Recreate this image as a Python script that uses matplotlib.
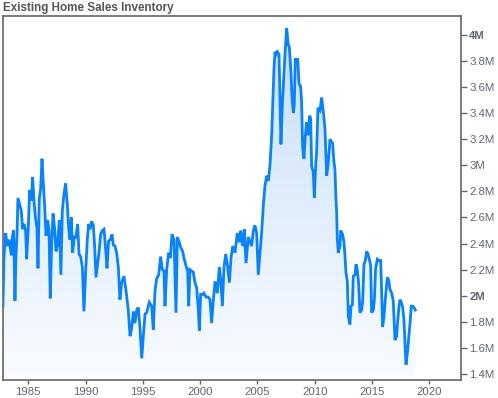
import matplotlib
matplotlib.use("Agg")
import matplotlib.pyplot as plt
import numpy as np
from matplotlib.colors import LinearSegmentedColormap
from matplotlib.ticker import FuncFormatter, FixedLocator

plt.rcParams["font.family"] = ["Liberation Sans", "DejaVu Sans"]

years = [
    1982.79, 1982.88, 1983.03, 1983.17, 1983.32, 1983.43, 1983.52, 1983.61, 1983.72, 1983.84,
    1983.93, 1984.01, 1984.10, 1984.25, 1984.39, 1984.51, 1984.63, 1984.77, 1984.86, 1985.00,
    1985.12, 1985.27, 1985.38, 1985.50, 1985.64, 1985.76, 1985.85, 1985.96, 1986.08, 1986.20,
    1986.31, 1986.43, 1986.55, 1986.69, 1986.81, 1986.92, 1987.04, 1987.16, 1987.30, 1987.42,
    1987.56, 1987.71, 1987.85, 1987.97, 1988.12, 1988.26, 1988.41, 1988.52, 1988.64, 1988.76,
    1988.87, 1989.02, 1989.16, 1989.31, 1989.43, 1989.57, 1989.72, 1989.86, 1990.01, 1990.15,
    1990.27, 1990.39, 1990.53, 1990.68, 1990.79, 1990.91, 1991.06, 1991.17, 1991.32, 1991.46,
    1991.61, 1991.75, 1991.87, 1992.01, 1992.16, 1992.31, 1992.42, 1992.57, 1992.71, 1992.86,
    1993.00, 1993.15, 1993.35, 1993.53, 1993.73, 1993.88, 1994.02, 1994.17, 1994.31, 1994.46,
    1994.60, 1994.75, 1994.90, 1995.04, 1995.19, 1995.33, 1995.56, 1995.77, 1995.91, 1996.06,
    1996.20, 1996.38, 1996.55, 1996.70, 1996.84, 1996.93, 1997.08, 1997.25, 1997.40, 1997.54,
    1997.72, 1997.89, 1998.01, 1998.18, 1998.30, 1998.47, 1998.59, 1998.76, 1998.91, 1999.00,
    1999.11, 1999.26, 1999.40, 1999.55, 1999.70, 1999.84, 1999.93, 2000.04, 2000.22, 2000.33,
    2000.51, 2000.71, 2000.86, 2001.00, 2001.15, 2001.30, 2001.50, 2001.67, 2001.79, 2001.94,
    2002.08, 2002.23, 2002.37, 2002.55, 2002.69, 2002.84, 2003.04, 2003.24, 2003.42, 2003.53,
    2003.71, 2003.85, 2004.00, 2004.20, 2004.49, 2004.64, 2004.78, 2004.93, 2005.07, 2005.22,
    2005.36, 2005.51, 2005.65, 2005.80, 2005.95, 2006.09, 2006.24, 2006.32, 2006.38, 2006.44,
    2006.53, 2006.61, 2006.73, 2006.88, 2006.96, 2007.05, 2007.17, 2007.31, 2007.40, 2007.55,
    2007.69, 2007.78, 2007.92, 2008.01, 2008.13, 2008.21, 2008.30, 2008.42, 2008.51, 2008.62,
    2008.77, 2008.85, 2008.94, 2009.06, 2009.17, 2009.29, 2009.41, 2009.55, 2009.64, 2009.73,
    2009.87, 2009.96, 2010.08, 2010.16, 2010.28, 2010.45, 2010.60, 2010.75, 2010.89, 2011.04,
    2011.18, 2011.33, 2011.44, 2011.56, 2011.68, 2011.76, 2011.85, 2011.91, 2011.97, 2012.05,
    2012.20, 2012.26, 2012.43, 2012.55, 2012.64, 2012.72, 2012.84, 2012.93, 2013.07, 2013.16,
    2013.28, 2013.36, 2013.51, 2013.60, 2013.71, 2013.83, 2013.94, 2014.09, 2014.18, 2014.29,
    2014.41, 2014.53, 2014.64, 2014.76, 2014.88, 2014.96, 2015.11, 2015.20, 2015.31, 2015.46,
    2015.60, 2015.75, 2015.83, 2015.92, 2016.04, 2016.18, 2016.33, 2016.45, 2016.56, 2016.71,
    2016.85, 2017.00, 2017.14, 2017.23, 2017.35, 2017.44, 2017.58, 2017.67, 2017.78, 2017.96,
    2018.08, 2018.16, 2018.31, 2018.42, 2018.54, 2018.66, 2018.77,
]

inventory_m = [
    1.92, 2.29, 2.48, 2.38, 2.43, 2.37, 2.31, 2.45, 2.50, 1.96,
    2.31, 2.45, 2.75, 2.70, 2.65, 2.51, 2.55, 2.50, 2.28, 2.52,
    2.81, 2.73, 2.91, 2.73, 2.59, 2.52, 2.21, 2.74, 2.82, 3.05,
    2.87, 2.69, 2.46, 2.58, 2.51, 1.98, 2.39, 2.63, 2.52, 2.34,
    2.39, 2.58, 2.16, 2.65, 2.78, 2.86, 2.70, 2.52, 2.43, 2.60,
    2.33, 2.45, 2.45, 2.55, 2.32, 2.30, 2.22, 1.88, 2.19, 2.43,
    2.55, 2.51, 2.57, 2.54, 2.38, 2.14, 2.25, 2.33, 2.47, 2.50,
    2.51, 2.36, 2.21, 2.42, 2.43, 2.47, 2.39, 2.38, 2.33, 2.22,
    1.97, 2.10, 2.15, 2.04, 1.89, 1.69, 1.75, 1.88, 1.79, 1.89,
    1.91, 1.75, 1.52, 1.69, 1.86, 1.87, 1.95, 1.92, 1.74, 2.04,
    2.13, 2.16, 2.30, 2.20, 2.19, 1.92, 2.20, 2.33, 2.29, 2.47,
    2.43, 1.87, 2.45, 2.41, 2.37, 2.34, 2.29, 2.23, 2.19, 1.92,
    2.20, 2.19, 2.18, 2.10, 2.06, 1.89, 1.73, 2.01, 2.01, 2.02,
    1.99, 1.99, 1.97, 1.79, 1.97, 2.11, 2.02, 2.22, 2.13, 1.92,
    2.22, 2.32, 2.24, 2.10, 2.29, 2.38, 2.33, 2.48, 2.41, 2.50,
    2.38, 2.51, 2.25, 2.45, 2.38, 2.50, 2.54, 2.48, 2.16, 2.33,
    2.48, 2.69, 2.84, 2.92, 2.88, 3.00, 3.23, 3.44, 3.60, 3.74,
    3.87, 3.85, 3.87, 3.85, 3.51, 3.16, 3.46, 3.69, 3.85, 4.05,
    3.92, 3.91, 3.72, 3.52, 3.40, 3.46, 3.82, 3.77, 3.82, 3.63,
    3.60, 3.49, 3.14, 3.05, 3.22, 3.33, 3.23, 3.38, 3.36, 2.99,
    2.95, 2.75, 3.00, 3.10, 3.44, 3.42, 3.52, 3.41, 3.28, 2.92,
    3.02, 3.20, 3.18, 3.17, 3.02, 2.97, 2.74, 2.64, 2.43, 2.33,
    2.38, 2.50, 2.47, 2.41, 2.30, 2.18, 2.11, 1.84, 1.78, 1.92,
    1.93, 2.15, 2.16, 2.24, 2.20, 2.09, 1.87, 1.89, 1.96, 2.24,
    2.27, 2.34, 2.32, 2.28, 2.23, 1.87, 1.89, 1.97, 2.21, 2.28,
    2.27, 2.27, 2.05, 1.76, 1.84, 2.00, 2.14, 2.12, 2.05, 2.02,
    1.96, 1.66, 1.69, 1.80, 1.92, 1.97, 1.94, 1.91, 1.82, 1.47,
    1.56, 1.64, 1.79, 1.92, 1.92, 1.91, 1.89,
]

x_ticks = [1985, 1990, 1995, 2000, 2005, 2010, 2015, 2020]
y_ticks = [1.4, 1.6, 1.8, 2.0, 2.2, 2.4, 2.6, 2.8, 3.0, 3.2, 3.4, 3.6, 3.8, 4.0]
title = "Existing Home Sales Inventory"

W, H = 498, 398
fig = plt.figure(figsize=(W / 100, H / 100), dpi=100)
ax = fig.add_axes([2.7 / W, 1 - 380 / H, (461 - 2.7) / W, (380 - 16) / H])

xmin, xmax = 1982.77, 2022.76
ymin, ymax = 1.354, 4.144
ax.set_xlim(xmin, xmax)
ax.set_ylim(ymin, ymax)

line_color = "#0a82fa"
# gradient fill under line
cmap = LinearSegmentedColormap.from_list("g", ["#fafcff", "#c6dff9"])
grad = np.linspace(0, 1, 256).reshape(-1, 1)
im = ax.imshow(grad, extent=[xmin, xmax, ymin, 4.1], origin="lower",
               aspect="auto", cmap=cmap, vmin=0, vmax=1, zorder=1)
poly = ax.fill_between(years, inventory_m, ymin, color="none", lw=0)
paths = poly.get_paths()
if paths:
    im.set_clip_path(paths[0], transform=ax.transData)
ax.plot(years, inventory_m, color=line_color, lw=2.0, zorder=3,
        solid_joinstyle="miter")

# axes styling
tick_color = "#5f6770"
for s in ax.spines.values():
    s.set_color("#666666")
    s.set_linewidth(1.2)
ax.yaxis.tick_right()
ax.yaxis.set_major_locator(FixedLocator(y_ticks))
ax.yaxis.set_major_formatter(FuncFormatter(lambda v, p: f"{v:g}M"))
ax.tick_params(axis="y", which="major", direction="out", length=4, width=1,
               color="#666666", labelcolor=tick_color, labelsize=8.2, pad=2)
ax.set_xticks(x_ticks)
ax.tick_params(axis="x", direction="out", length=3, width=1, color="#666666",
               labelcolor=tick_color, labelsize=8.2, pad=2)
for lbl in ax.get_yticklabels():
    if lbl.get_text() in ("2M", "4M"):
        lbl.set_fontweight("bold")

fig.text(3 / W, 1 - 8 / H, title, fontsize=8.4, fontweight="bold",
         color="#555555", ha="left", va="center")

fig.savefig("out.png", dpi=100)
